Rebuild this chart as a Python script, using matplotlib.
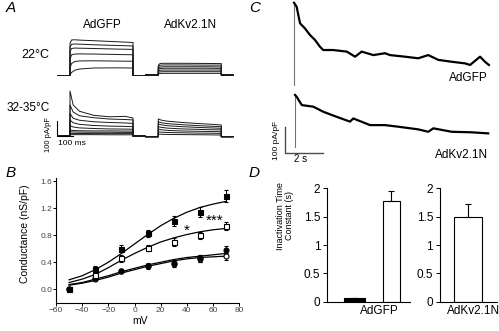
import matplotlib
matplotlib.use('Agg')
import matplotlib.pyplot as plt

plt.rcParams['font.family'] = ['Liberation Sans', 'DejaVu Sans']

W, H = 499, 331

# ---------------- data ----------------
# panel A: current families (pA/pF), times in ms from pulse onset
a_times_22 = [0, 10, 30, 60, 150, 300, 400]
gfp_22 = [[215, 237, 238, 236, 232, 225, 220],
          [190, 208, 210, 209, 205, 200, 197],
          [160, 180, 183, 182, 180, 176, 174],
          [110, 138, 143, 144, 143, 140, 138],
          [50, 80, 93, 97, 98, 96, 95],
          [5, 20, 35, 43, 50, 51, 50]]
kv_22 = [[65, 76, 78, 78, 78, 77, 76],
         [55, 65, 67, 67, 67, 66, 66],
         [45, 53, 55, 55, 55, 55, 54],
         [36, 43, 45, 45, 45, 45, 44],
         [26, 32, 33, 33, 33, 33, 33],
         [17, 21, 22, 22, 22, 22, 22],
         [8, 10, 11, 11, 11, 11, 11]]
a_times_32 = [0, 20, 60, 150, 250, 350, 400]
gfp_32 = [[300, 207, 165, 138, 128, 131, 120],
          [207, 160, 135, 122, 113, 110, 107],
          [151, 118, 105, 95, 90, 87, 84],
          [107, 88, 78, 70, 66, 64, 62],
          [69, 60, 54, 50, 47, 46, 45],
          [40, 37, 35, 34, 34, 33, 33],
          [29, 27, 26, 25, 25, 24, 24],
          [18, 17, 17, 16, 16, 16, 16],
          [9, 9, 9, 9, 8, 8, 8]]
kv_32 = [[118, 110, 103, 95, 88, 82, 78],
         [100, 93, 87, 80, 74, 69, 67],
         [85, 79, 73, 67, 62, 58, 56],
         [67, 62, 57, 52, 49, 46, 45],
         [51, 46, 42, 38, 36, 34, 33],
         [33, 30, 28, 26, 24, 23, 22],
         [18, 16, 15, 14, 13, 12, 11]]

# panel B: conductance vs voltage
mv = [-50, -30, -10, 10, 30, 50, 70]
g_sq_fill = [0.0, 0.30, 0.60, 0.83, 1.01, 1.14, 1.38]
g_sq_fill_err = [0.03, 0.04, 0.05, 0.05, 0.08, 0.07, 0.09]
g_sq_open = [0.0, 0.21, 0.46, 0.61, 0.70, 0.80, 0.94]
g_sq_open_err = [0.03, 0.04, 0.05, 0.05, 0.06, 0.05, 0.06]
g_ci_fill = [0.0, 0.16, 0.27, 0.35, 0.39, 0.46, 0.58]
g_ci_fill_err = [0.02, 0.03, 0.03, 0.04, 0.04, 0.05, 0.06]
g_ci_open = [0.0, 0.15, 0.27, 0.34, 0.38, 0.45, 0.49]
g_ci_open_err = [0.02, 0.03, 0.03, 0.04, 0.05, 0.05, 0.05]
fit_mv = [-50, -40, -30, -20, -10, 0, 10, 20, 30, 40, 50, 60, 70]
fit_sq_fill = [0.14, 0.20, 0.29, 0.40, 0.53, 0.67, 0.81, 0.94, 1.05, 1.14, 1.21, 1.26, 1.30]
fit_sq_open = [0.10, 0.15, 0.22, 0.32, 0.43, 0.53, 0.62, 0.70, 0.76, 0.81, 0.85, 0.88, 0.90]
fit_ci_fill = [0.07, 0.10, 0.15, 0.20, 0.26, 0.31, 0.36, 0.40, 0.44, 0.47, 0.49, 0.51, 0.53]
fit_ci_open = [0.06, 0.09, 0.13, 0.18, 0.24, 0.29, 0.34, 0.38, 0.42, 0.45, 0.47, 0.48, 0.49]

# panel C: long-pulse traces (s, pA/pF)
c_gfp_t = [0, 0, 0.14, 0.23, 0.32, 0.58, 0.85, 1.11, 1.38, 1.55, 2.07, 2.80, 3.24, 3.59,
           4.21, 4.83, 5.09, 5.89, 6.59, 7.12, 7.66, 8.37, 9.07, 9.34, 9.87, 10.13, 10.34]
c_gfp_i = [0, 308, 293, 262, 231, 212, 187, 169, 143, 131, 131, 125, 106, 125,
           112, 119, 112, 106, 100, 112, 94, 87, 81, 75, 106, 87, 75]
c_kv_t = [0, 0, 0.09, 0.36, 0.97, 1.50, 2.21, 2.92, 3.09, 3.98, 4.77, 5.48, 6.54, 7.07,
          7.34, 8.31, 9.37, 10.25]
c_kv_i = [0, 195, 188, 157, 151, 132, 113, 95, 107, 82, 82, 76, 66, 57, 70, 57, 55, 51]

# panel D: inactivation time constants (s)
tau_gfp = [0.06, 1.78]
tau_gfp_err = [0.01, 0.17]
tau_kv = [1.49]
tau_kv_err = [0.23]


def px_box(x0, y0, x1, y1):
    return [x0 / W, 1 - y1 / H, (x1 - x0) / W, (y1 - y0) / H]


def ftext(x, y, s, **kw):
    fig.text(x / W, 1 - y / H, s, **kw)


fig = plt.figure(figsize=(W / 100, H / 100), dpi=100)

# ---------------- panel A ----------------
SX = 0.1575  # px per ms
SY = 0.15    # px per pA/pF


def trace_axes(x0, ybase):
    ax = fig.add_axes(px_box(x0 - 85 * SX, ybase - 320 * SY, x0 + 480 * SX, ybase + 20 * SY))
    ax.set_xlim(-85, 480)
    ax.set_ylim(-20, 320)
    ax.axis('off')
    return ax


def draw_family(ax, times, family):
    for vals in family:
        t = [-83, 0] + times + [400, 475]
        y = [0, 0] + vals + [0, 0]
        ax.plot(t, y, color='#1a1a1a', lw=0.7)


draw_family(trace_axes(70, 75.5), a_times_22, gfp_22)
draw_family(trace_axes(158.3, 75), a_times_22, kv_22)
ax_a3 = trace_axes(70, 136)
draw_family(ax_a3, a_times_32, gfp_32)
draw_family(trace_axes(158.3, 136.7), a_times_32, kv_32)
ax_a3.plot([-84, -84, 16], [100, 0, 0], color='k', lw=0.8, clip_on=False)

ftext(6, 8, 'A', fontsize=11, style='italic', va='center')
ftext(102.5, 25, 'AdGFP', fontsize=8.5, ha='center', va='center')
ftext(191, 25, 'AdKv2.1N', fontsize=8.5, ha='center', va='center')
ftext(49, 55, '22°C', fontsize=9, ha='right', va='center')
ftext(50, 108, '32-35°C', fontsize=8.5, ha='right', va='center')
ftext(58, 143, '100 ms', fontsize=6, ha='left', va='center')
ftext(48, 134, '100 pA/pF', fontsize=5.5, ha='center', va='center', rotation=90)

# ---------------- panel B ----------------
axB = fig.add_axes(px_box(56, 177.7, 239.3, 302.8))
for fit in [fit_sq_fill, fit_sq_open, fit_ci_fill, fit_ci_open]:
    axB.plot(fit_mv, fit, color='k', lw=0.9)
ebkw = dict(color='k', ls='none', ms=3.6, mew=0.8, elinewidth=0.7, capsize=1.5, capthick=0.7)
axB.errorbar(mv, g_ci_open, yerr=g_ci_open_err, marker='o', mfc='white', **ebkw)
axB.errorbar(mv, g_ci_fill, yerr=g_ci_fill_err, marker='o', mfc='k', **ebkw)
axB.errorbar(mv, g_sq_open, yerr=g_sq_open_err, marker='s', mfc='white', **ebkw)
axB.errorbar(mv, g_sq_fill, yerr=g_sq_fill_err, marker='s', mfc='k', **ebkw)
axB.text(40, 0.87, '*', fontsize=11, ha='center', va='center')
axB.text(61, 1.01, '***', fontsize=11, ha='center', va='center')
axB.set_xlim(-60, 80)
axB.set_ylim(-0.2, 1.65)
axB.set_xticks(range(-60, 81, 20))
axB.set_yticks([0.0, 0.4, 0.8, 1.2, 1.6])
axB.set_yticklabels(['0.0', '0.4', '0.8', '1.2', '1.6'])
axB.spines['top'].set_visible(False)
axB.spines['right'].set_visible(False)
for s in ['left', 'bottom']:
    axB.spines[s].set_linewidth(0.8)
axB.tick_params(direction='out', length=2, width=0.7, labelsize=6, labelcolor='#444', pad=0.8)
ftext(25.5, 234, 'Conductance (nS/pF)', fontsize=7.5, rotation=90, ha='center', va='center')
ftext(140, 321, 'mV', fontsize=7.5, ha='center', va='center')
ftext(6, 173, 'B', fontsize=11, style='italic', va='center')

# ---------------- panel C ----------------
axC = fig.add_axes(px_box(260, 0, 499, 165))
axC.set_xlim(-1.804, 10.875)
axC.set_ylim(-299.6, 318.3)
axC.axis('off')
axC.plot(c_gfp_t[:2], c_gfp_i[:2], color='0.45', lw=0.8)
axC.plot(c_gfp_t[1:], c_gfp_i[1:], color='k', lw=1.6)
kv_t = [t + 0.053 for t in c_kv_t]
kv_i = [i - 232.2 for i in c_kv_i]
axC.plot(kv_t[:2], kv_i[:2], color='0.45', lw=0.8)
axC.plot(kv_t[1:], kv_i[1:], color='k', lw=1.6)
axC.plot([-0.477, -0.477, 1.523], [-155.8, -255.8, -255.8], color='0.3', lw=1.0)
ftext(300.5, 159, '2 s', fontsize=7, ha='center', va='center')
ftext(277, 140, '100 pA/pF', fontsize=6, ha='center', va='center', rotation=90)
ftext(488, 78, 'AdGFP', fontsize=8.5, ha='right', va='center')
ftext(488, 155, 'AdKv2.1N', fontsize=8.5, ha='right', va='center')
ftext(249, 8, 'C', fontsize=11, style='italic', va='center')

# ---------------- panel D ----------------
axD1 = fig.add_axes(px_box(327.3, 188.3, 410, 301.7))
axD1.set_xlim(0, 4)
axD1.bar([1.3], tau_gfp[:1], width=1.0, color='k', edgecolor='k', lw=0.8)
axD1.bar([3.1], tau_gfp[1:], width=0.85, color='white', edgecolor='k', lw=0.8)
axD1.errorbar([1.3, 3.1], tau_gfp, yerr=[[0, 0], tau_gfp_err], color='k', ls='none',
              elinewidth=0.8, capsize=2, capthick=0.8)
axD2 = fig.add_axes(px_box(440, 188.3, 496.7, 301.7))
axD2.set_xlim(0, 2.74)
axD2.bar([1.36], tau_kv, width=1.37, color='white', edgecolor='k', lw=0.8)
axD2.errorbar([1.36], tau_kv, yerr=[[0], tau_kv_err], color='k', ls='none',
              elinewidth=0.8, capsize=2, capthick=0.8)
for ax in [axD1, axD2]:
    ax.set_ylim(0, 2)
    ax.set_yticks([0, 0.5, 1, 1.5, 2])
    ax.set_yticklabels(['0', '0.5', '1', '1.5', '2'])
    ax.set_xticks([])
    ax.spines['top'].set_visible(False)
    ax.spines['right'].set_visible(False)
    for s in ['left', 'bottom']:
        ax.spines[s].set_linewidth(0.8)
    ax.tick_params(direction='out', length=3, width=0.7, labelsize=8.5, pad=2)
ftext(379, 311, 'AdGFP', fontsize=8.5, ha='center', va='center')
ftext(473.5, 311, 'AdKv2.1N', fontsize=8.5, ha='center', va='center')
ftext(285, 216, 'Inactivation Time\nConstant (s)', fontsize=6.5, rotation=90,
      ha='center', va='center', linespacing=1.1)
ftext(249, 173, 'D', fontsize=11, style='italic', va='center')

fig.savefig('out.png', dpi=100)
